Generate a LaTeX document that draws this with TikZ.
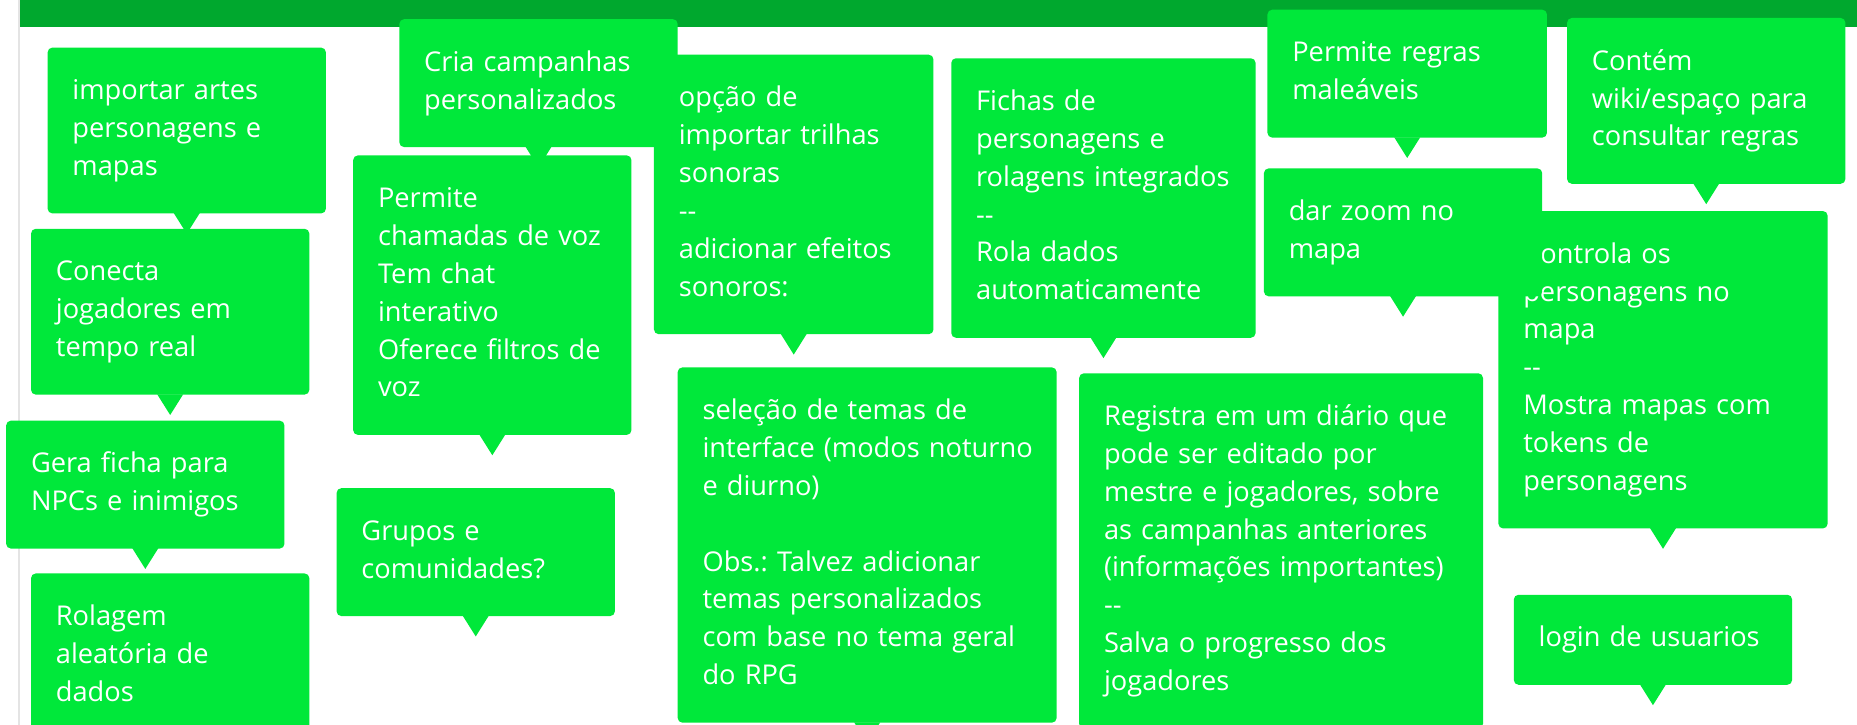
\documentclass[tikz,border=0pt]{standalone}
\usepackage{fontspec}
\setmainfont{Open Sans}
\frenchspacing
\definecolor{notegreen}{HTML}{00E83A}
\definecolor{bargreen}{HTML}{00A82E}
\definecolor{edgegray}{HTML}{E4E4E4}
\newcommand\ls{\rule[-10pt]{0pt}{32pt}}
\newcommand\Ln[1]{\ls\mbox{#1}}
\tikzset{
  note/.style={anchor=north west, fill=notegreen, rounded corners=4pt, text=white,
    inner xsep=21pt, inner ysep=22pt, align=left,
    font=\fontsize{23}{32}\selectfont\frenchspacing},
  tip/.style={fill=notegreen}
}
\newcommand\note[6]{%
  \node[note, text width=#5pt, minimum width=#4pt] (#1) at (#2,#3) {#6};
  \fill[tip] ([xshift=-11pt,yshift=0.5pt]#1.south) -- ([xshift=11pt,yshift=0.5pt]#1.south) -- ([yshift=-17pt]#1.south) -- cycle;}
\begin{document}
\begin{tikzpicture}[x=1pt,y=-1pt]
\useasboundingbox (0,0) rectangle (1568,612);
\clip (0,0) rectangle (1568,612);
\fill[white] (0,0) rectangle (1568,612);
\fill[bargreen] (17,0) rectangle (1568,22.5);
\draw[edgegray, line width=1.5pt] (16,0) -- (16,612);

\note{arts}{40}{40}{235}{193}{\Ln{importar artes}\\\Ln{personagens e}\\\Ln{mapas}}
\note{conn}{26}{193}{235}{193}{\Ln{Conecta}\\\Ln{jogadores em}\\\Ln{tempo real}}
\note{npc}{5}{355}{235}{193}{\Ln{Gera ficha para}\\\Ln{NPCs e inimigos}}
\note{roll}{26}{484}{235}{193}{\Ln{Rolagem}\\\Ln{aleatória de}\\\Ln{dados}}
\note{voice}{298}{131}{235}{193}{\Ln{Permite}\\\Ln{chamadas de voz}\\\Ln{Tem chat}\\\Ln{interativo}\\\Ln{Oferece filtros de}\\\Ln{voz}}
\note{groups}{284}{412}{235}{193}{\Ln{Grupos e}\\\Ln{comunidades?}}
\note{sound}{552}{46}{236}{194}{\Ln{opção de}\\\Ln{importar trilhas}\\\Ln{sonoras}\\\Ln{-{}-}\\\Ln{adicionar efeitos}\\\Ln{sonoros:}}
\note{camp}{337}{16}{235}{193}{\Ln{Cria campanhas}\\\Ln{personalizados}}
\note{theme}{572}{310}{320}{278}{\Ln{seleção de temas de}\\\Ln{interface (modos noturno}\\\Ln{e diurno)}\\\Ln{}\\\Ln{Obs.: Talvez adicionar}\\\Ln{temas personalizados}\\\Ln{com base no tema geral}\\\Ln{do RPG}}
\note{sheets}{803}{49}{257}{215}{\Ln{Fichas de}\\\Ln{personagens e}\\\Ln{rolagens integrados}\\\Ln{-{}-}\\\Ln{Rola dados}\\\Ln{automaticamente}}
\note{diary}{911}{315}{341}{299}{\Ln{Registra em um diário que}\\\Ln{pode ser editado por}\\\Ln{mestre e jogadores, sobre}\\\Ln{as campanhas anteriores}\\\Ln{(informações importantes)}\\\Ln{-{}-}\\\Ln{Salva o progresso dos}\\\Ln{jogadores}}
\note{rules}{1070}{8}{236}{194}{\Ln{Permite regras}\\\Ln{maleáveis}}
\note{wiki}{1323}{15}{235}{193}{\Ln{Contém}\\\Ln{wiki/espaço para}\\\Ln{consultar regras}}
\note{tokens}{1265}{178}{278}{236}{\Ln{Controla os}\\\Ln{personagens no}\\\Ln{mapa}\\\Ln{-{}-}\\\Ln{Mostra mapas com}\\\Ln{tokens de}\\\Ln{personagens}}
\note{zoom}{1067}{142}{235}{193}{\Ln{dar zoom no}\\\Ln{mapa}}
\note{login}{1278}{502}{235}{193}{\Ln{login de usuarios}}
\end{tikzpicture}
\end{document}
